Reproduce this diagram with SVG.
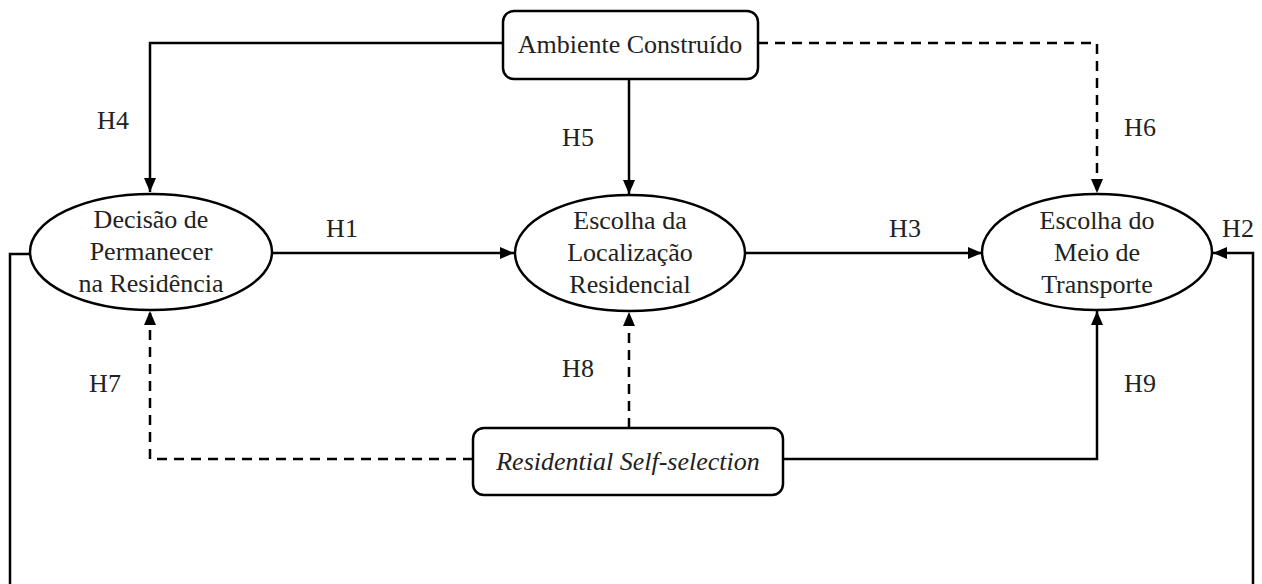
<svg xmlns="http://www.w3.org/2000/svg" width="1262" height="584" viewBox="0 0 1262 584">
<style>
text{font-family:"Liberation Serif","Times New Roman",serif;font-size:26px;fill:#222;}
.c{text-anchor:middle;}
.shape{fill:#fff;stroke:#000;stroke-width:2.5;}
.ln{fill:none;stroke:#000;stroke-width:2.5;}
.d{stroke-dasharray:10 7;}
</style>
<defs>
<marker id="ah" viewBox="0 0 14 12" refX="14" refY="6" markerWidth="14" markerHeight="12" markerUnits="userSpaceOnUse" orient="auto">
<path d="M0,0 L14,6 L0,12 z" fill="#000"/>
</marker>
</defs>
<rect width="1262" height="584" fill="#fff"/>
<g id="connectors">
<path class="ln" d="M503,43 H150 V192" marker-end="url(#ah)"/>
<path class="ln" d="M629,79 V194" marker-end="url(#ah)"/>
<path class="ln d" d="M758,43 H1097 V193" marker-end="url(#ah)"/>
<path class="ln" d="M273,253 H514" marker-end="url(#ah)"/>
<path class="ln" d="M745,253 H982" marker-end="url(#ah)"/>
<path class="ln d" d="M473,459 H150 V311" marker-end="url(#ah)"/>
<path class="ln d" d="M629,428 V312" marker-end="url(#ah)"/>
<path class="ln" d="M783,459 H1097 V311" marker-end="url(#ah)"/>
<path class="ln" d="M30,254 H10 V584"/>
<path class="ln" d="M1253,584 V253 H1213" marker-end="url(#ah)"/>
</g>
<g id="labels">
<text x="113" y="129" class="c">H4</text>
<text x="578" y="146" class="c">H5</text>
<text x="1140" y="136" class="c">H6</text>
<text x="342" y="237" class="c">H1</text>
<text x="905" y="237" class="c">H3</text>
<text x="1238" y="237" class="c">H2</text>
<text x="105" y="392" class="c">H7</text>
<text x="578" y="377" class="c">H8</text>
<text x="1140" y="392" class="c">H9</text>
</g>
<g id="ambiente">
<rect class="shape" x="503" y="11" width="255" height="68" rx="11"/>
<text x="630" y="53" class="c">Ambiente Construído</text>
</g>
<g id="decisao">
<ellipse class="shape" cx="151" cy="252" rx="121" ry="58"/>
<text x="151" y="228" class="c">Decisão de</text>
<text x="151" y="260" class="c">Permanecer</text>
<text x="151" y="292" class="c">na Residência</text>
</g>
<g id="localizacao">
<ellipse class="shape" cx="630" cy="253" rx="115" ry="58"/>
<text x="630" y="229" class="c">Escolha da</text>
<text x="630" y="261" class="c">Localização</text>
<text x="630" y="293" class="c">Residencial</text>
</g>
<g id="transporte">
<ellipse class="shape" cx="1097" cy="252" rx="115" ry="58"/>
<text x="1097" y="229" class="c">Escolha do</text>
<text x="1097" y="261" class="c">Meio de</text>
<text x="1097" y="293" class="c">Transporte</text>
</g>
<g id="selfselection">
<rect class="shape" x="473" y="428" width="310" height="67" rx="11"/>
<text x="628" y="470" class="c" font-style="italic">Residential Self-selection</text>
</g>
</svg>
